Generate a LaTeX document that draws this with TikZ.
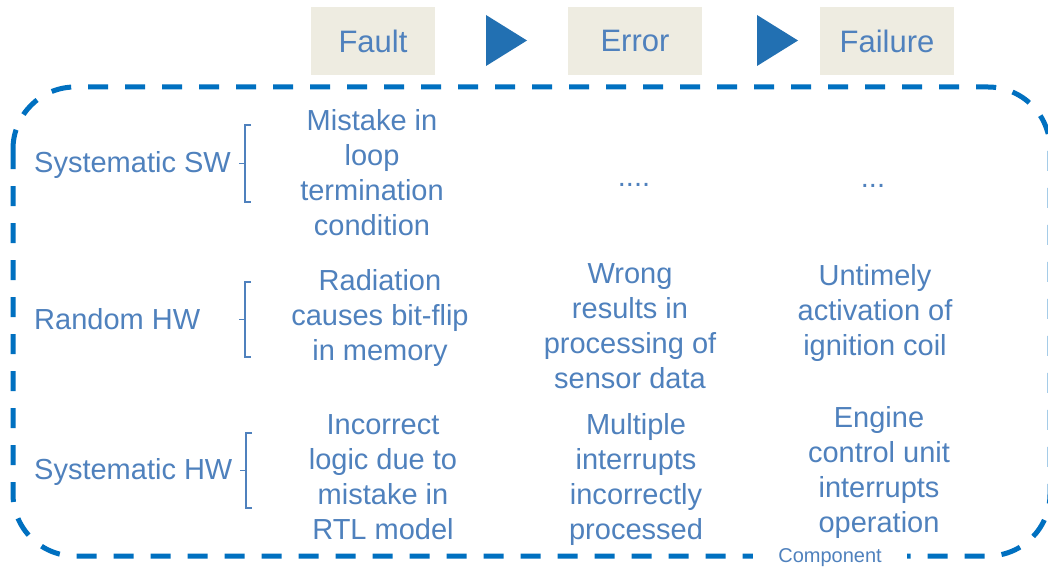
\documentclass[tikz,border=0pt]{standalone}
\usepackage{fontspec}
\setmainfont{Liberation Sans}
\definecolor{txtblue}{RGB}{79,129,189}
\definecolor{frameblue}{RGB}{0,112,192}
\definecolor{arrowblue}{RGB}{34,112,178}
\definecolor{stagefill}{RGB}{238,236,225}
\tikzset{
  stage/.style={fill=stagefill, text=txtblue, font=\fontsize{31}{37}\selectfont,
    minimum height=68pt, inner sep=0pt},
  body/.style={text=txtblue, font=\fontsize{29}{35}\selectfont, align=center, inner sep=0pt},
  rowlabel/.style={text=txtblue, font=\fontsize{29}{35}\selectfont, anchor=base west, inner sep=0pt},
  bracket/.style={draw=txtblue, line width=1.6pt},
  flow/.style={fill=arrowblue},
  frame/.style={draw=frameblue, line width=5pt, dash pattern=on 20pt off 17pt, rounded corners=62pt},
}
\newcommand{\rowbracket}[3]{% x, top, bottom
  \draw[bracket] (#1+6,#2) -- (#1,#2) -- (#1,{(#2+#3)/2}) -- (#1-6,{(#2+#3)/2})
    (#1,{(#2+#3)/2}) -- (#1,#3) -- (#1+6,#3);
}
\begin{document}
\begin{tikzpicture}[x=1pt,y=-1pt]
\useasboundingbox (0,0) rectangle (1048,567);
\clip (0,0) rectangle (1048,567);
\fill[white] (0,0) rectangle (1048,567);

% component boundary
\draw[frame] (13,87) rectangle (1050,556);
\node[fill=white, text=txtblue, font=\fontsize{20}{24}\selectfont, inner xsep=25pt, inner ysep=2pt, anchor=base]
  (comp) at (830,562) {Component};

% fault -> error -> failure chain
\node[stage, minimum width=124pt] (fault) at (373,41) {Fault};
\node[stage, minimum width=134pt] (error) at (635,41) {Error};
\node[stage, minimum width=134pt] (failure) at (887,41) {Failure};
\fill[flow] (486,15) -- (527,40.5) -- (486,66) -- cycle;
\fill[flow] (757,15) -- (798,40.5) -- (757,66) -- cycle;

% row labels
\node[rowlabel] (rsw) at (34,172) {Systematic SW};
\node[rowlabel] (rhw) at (34,329) {Random HW};
\node[rowlabel] (shw) at (34,479) {Systematic HW};
\rowbracket{245}{125}{202}
\rowbracket{245}{282}{357}
\rowbracket{246}{433}{508}

% systematic SW
\node[body] (f1) at (372,172.5) {Mistake in\\loop\\termination\\condition};
\node[body, anchor=base] (e1) at (634,186) {....};
\node[body, anchor=base] (g1) at (873,187) {...};

% random HW
\node[body] (f2) at (380,318) {Radiation\\causes bit-flip\\in memory};
\node[body] (e2) at (630,326) {Wrong\\results in\\processing of\\sensor data};
\node[body] (g2) at (875,313) {Untimely\\activation of\\ignition coil};

% systematic HW
\node[body] (f3) at (383,477) {Incorrect\\logic due to\\mistake in\\RTL model};
\node[body] (e3) at (636,479.5) {Multiple\\interrupts\\incorrectly\\processed};
\node[body] (g3) at (879,472) {Engine\\control unit\\interrupts\\operation};
\end{tikzpicture}
\end{document}
